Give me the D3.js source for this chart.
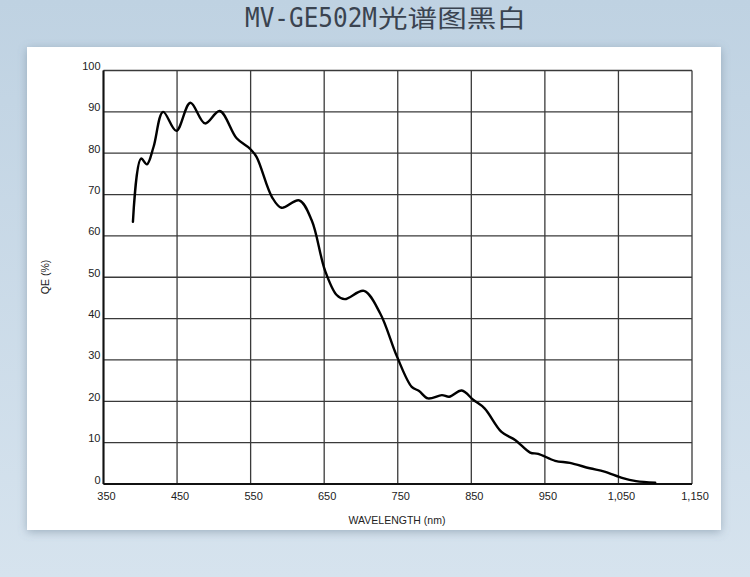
<!DOCTYPE html>
<meta charset="utf-8">
<style>
  html, body { margin: 0; padding: 0; }
  body { width: 750px; height: 577px; overflow: hidden; }
  text { font-family: "Liberation Sans", Arial, sans-serif; }
</style>
<body>
<script src="https://d3js.org/d3.v7.min.js"></script>
<script>
  // spectrum (wavelength nm, QE %)
  var wavelengths = [390, 401, 409, 418, 431, 449, 468, 488, 508, 531, 549, 558, 579, 592, 616, 633, 651, 667, 678, 704,
                     726, 749, 769, 779, 791, 810, 820, 837, 853, 868, 891, 910, 930, 941, 964, 984, 1011, 1031, 1056, 1074, 1100];
  var qe = [63.4, 78.7, 77.3, 81.5, 90.0, 85.4, 92.2, 87.2, 90.2, 83.6, 81.1, 79.1, 69.4, 66.8, 68.6, 63.8, 51.7, 45.7, 44.7, 46.7,
            41.3, 30.8, 23.5, 22.5, 20.7, 21.5, 21.1, 22.6, 20.3, 18.3, 12.6, 10.6, 7.6, 7.3, 5.6, 5.1, 3.8, 3.0, 1.4, 0.7, 0.3];
  var xTicks = [350, 450, 550, 650, 750, 850, 950, 1050, 1150];
  var yTicks = [0, 10, 20, 30, 40, 50, 60, 70, 80, 90, 100];
  var titleModel = "MV-GE502M";
  var titleRest = "光谱图黑白";

  var W = 750, H = 577;
  var plot = { left: 103.5, right: 692, top: 70.5, bottom: 484 };

  var svg = d3.select("body").append("svg").attr("width", W).attr("height", H);
  var defs = svg.append("defs");

  var bg = defs.append("linearGradient").attr("id", "bg").attr("x1", 0).attr("y1", 0).attr("x2", 0).attr("y2", 1);
  bg.append("stop").attr("offset", "0%").attr("stop-color", "#bfd2e2");
  bg.append("stop").attr("offset", "100%").attr("stop-color", "#d6e3ee");

  var sh = defs.append("filter").attr("id", "shadow").attr("x", "-10%").attr("y", "-10%").attr("width", "120%").attr("height", "120%");
  sh.append("feDropShadow").attr("dx", 0).attr("dy", 2).attr("stdDeviation", 5)
    .attr("flood-color", "#5a7185").attr("flood-opacity", 0.45);

  svg.append("rect").attr("width", W).attr("height", H).attr("fill", "url(#bg)");

  // title: narrow mono latin + CJK
  var t = svg.append("text").attr("y", 27).attr("fill", "#3a4350");
  t.append("tspan").attr("x", 245)
    .attr("textLength", 132).attr("lengthAdjust", "spacingAndGlyphs")
    .style("font-family", "'DejaVu Sans Mono', monospace").style("font-size", "26px")
    .text(titleModel);
  t.append("tspan").attr("x", 378)
    .attr("textLength", 148).attr("lengthAdjust", "spacingAndGlyphs")
    .style("font-family", "'Noto Sans CJK SC', sans-serif").style("font-size", "24px")
    .text(titleRest);

  // white panel
  svg.append("rect")
    .attr("x", 27).attr("y", 47).attr("width", 694).attr("height", 483)
    .attr("fill", "#fff").attr("filter", "url(#shadow)");

  var x = d3.scaleLinear().domain([350, 1150]).range([plot.left, plot.right]);
  var y = d3.scaleLinear().domain([0, 100]).range([plot.bottom, plot.top]);

  var g = svg.append("g");

  // grid
  g.selectAll("line.v").data(xTicks).enter().append("line")
    .attr("x1", d => x(d)).attr("x2", d => x(d))
    .attr("y1", plot.top).attr("y2", plot.bottom)
    .attr("stroke", "#3a3a3a").attr("stroke-width", 1.3);
  g.selectAll("line.h").data(yTicks).enter().append("line")
    .attr("x1", plot.left).attr("x2", plot.right)
    .attr("y1", d => y(d)).attr("y2", d => y(d))
    .attr("stroke", "#3a3a3a").attr("stroke-width", 1.3);

  // heavier left / bottom axis lines
  g.append("line").attr("x1", plot.left).attr("x2", plot.left).attr("y1", plot.top).attr("y2", plot.bottom)
    .attr("stroke", "#111").attr("stroke-width", 2);
  g.append("line").attr("x1", plot.left).attr("x2", plot.right).attr("y1", plot.bottom).attr("y2", plot.bottom)
    .attr("stroke", "#111").attr("stroke-width", 2);

  // tick labels
  g.selectAll("text.yl").data(yTicks).enter().append("text")
    .attr("x", plot.left - 3).attr("y", d => y(d) - 0.5)
    .attr("text-anchor", "end")
    .style("font-size", "11px").attr("fill", "#222")
    .text(d => d);
  var fmt = d3.format(",");
  g.selectAll("text.xl").data(xTicks).enter().append("text")
    .attr("x", d => x(d) + 3).attr("y", 500)
    .attr("text-anchor", "middle")
    .style("font-size", "11px").attr("fill", "#222")
    .text(d => fmt(d));

  // axis titles
  g.append("text").attr("x", 397).attr("y", 524).attr("text-anchor", "middle")
    .style("font-size", "10.5px").attr("fill", "#222").text("WAVELENGTH (nm)");
  g.append("text").attr("transform", "translate(49,277) rotate(-90)").attr("text-anchor", "middle")
    .style("font-size", "10.5px").attr("fill", "#222").text("QE (%)");

  // curve
  var pts = wavelengths.map((w, i) => [w, qe[i]]);
  var line = d3.line().x(d => x(d[0])).y(d => y(d[1])).curve(d3.curveCatmullRom.alpha(0.5));
  g.append("path").datum(pts).attr("d", line)
    .attr("fill", "none").attr("stroke", "#000").attr("stroke-width", 2.4)
    .attr("stroke-linejoin", "round").attr("stroke-linecap", "round");
</script>
</body>
